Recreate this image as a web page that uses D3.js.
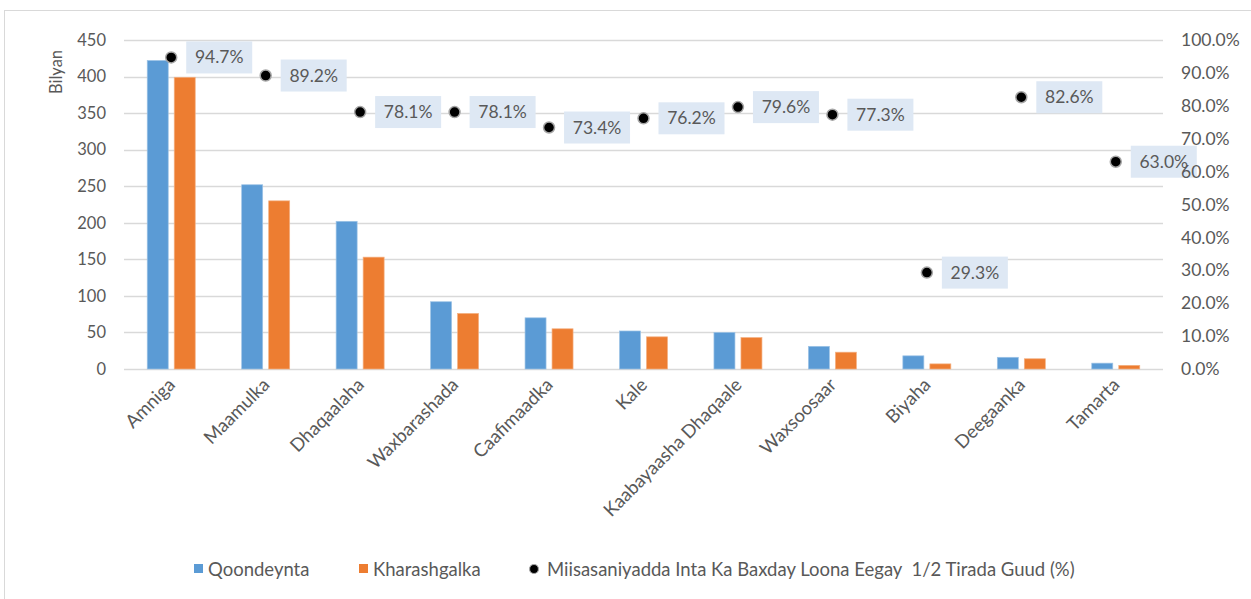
<!DOCTYPE html>
<html><head><meta charset="utf-8">
<script src="https://cdn.jsdelivr.net/npm/d3@7"></script>
<style>
html,body{margin:0;padding:0;background:#fff;}
svg text{font-family:Lato,"Liberation Sans",sans-serif;fill:#595959;}
</style></head>
<body><svg id="chart" width="1251" height="599"></svg>
<script>
const categories = ["Amniga","Maamulka","Dhaqaalaha","Waxbarashada","Caafimaadka","Kale","Kaabayaasha Dhaqaale","Waxsoosaar","Biyaha","Deegaanka","Tamarta"];
const qoondeynta = [422, 252, 202, 92, 70, 52, 50, 31, 18, 16, 8];
const kharashgalka = [399, 230, 153, 76, 55, 44, 43, 23, 7, 14, 5];
const percent = [94.7, 89.2, 78.1, 78.1, 73.4, 76.2, 79.6, 77.3, 29.3, 82.6, 63.0];
const leftTicks = [0,50,100,150,200,250,300,350,400,450];
const rightTicks = [0,0.1,0.2,0.3,0.4,0.5,0.6,0.7,0.8,0.9,1.0];
const seriesNames = ["Qoondeynta","Kharashgalka","Miisasaniyadda Inta Ka Baxday Loona Eegay  1/2 Tirada Guud (%)"];
const axisTitle = "Bilyan";

const svg = d3.select("#chart");
const L = 124, R = 1163, T = 40, B = 369;
const x = d3.scaleBand().domain(categories).range([L, R]);
const yL = d3.scaleLinear().domain([0,450]).range([B, T]);
const yR = d3.scaleLinear().domain([0,1]).range([B, T]);

// chart border
svg.append("rect").attr("x",4.5).attr("y",10.5).attr("width",1260).attr("height",600)
  .attr("fill","none").attr("stroke","#d9d9d9").attr("stroke-width",1);

// gridlines
svg.append("g").selectAll("line").data(leftTicks).join("line")
  .attr("x1",L).attr("x2",R).attr("y1",d=>Math.round(yL(d))+0.5).attr("y2",d=>Math.round(yL(d))+0.5)
  .attr("stroke","#d9d9d9").attr("stroke-width",1.5);

// left axis
const gL = svg.append("g").attr("transform",`translate(${L},0)`)
  .call(d3.axisLeft(yL).tickValues(leftTicks).tickSize(0).tickPadding(18));
gL.select(".domain").remove();
gL.selectAll("text").attr("font-size",16.5).style("font-family","Lato, sans-serif").attr("fill","#595959");

// axis title
svg.append("text").attr("transform","translate(62,72) rotate(-90)").attr("text-anchor","middle")
  .attr("font-size",16.5).text(axisTitle);

// bars
const bw = 21;
svg.append("g").selectAll("rect").data(categories).join("rect")
  .attr("x",d=>x(d)+x.bandwidth()/2-24).attr("width",bw)
  .attr("y",(d,i)=>yL(qoondeynta[i])).attr("height",(d,i)=>yL(0)-yL(qoondeynta[i]))
  .attr("fill","#5b9bd5").attr("stroke","#9dc3e6").attr("stroke-width",0.7);
svg.append("g").selectAll("rect").data(categories).join("rect")
  .attr("x",d=>x(d)+x.bandwidth()/2+3).attr("width",bw)
  .attr("y",(d,i)=>yL(kharashgalka[i])).attr("height",(d,i)=>yL(0)-yL(kharashgalka[i]))
  .attr("fill","#ed7d31").attr("stroke","#f4b183").attr("stroke-width",0.7);

// x labels
svg.append("g").selectAll("text").data(categories).join("text")
  .attr("transform",d=>`translate(${x(d)+x.bandwidth()/2+5},386) rotate(-45)`)
  .attr("text-anchor","end").attr("font-size",18.5).text(d=>d);

// data label boxes
const lab = svg.append("g");
categories.forEach((c,i)=>{
  const cx = x(c)+x.bandwidth()/2, cy = yR(percent[i]/100);
  lab.append("rect").attr("x",cx+15).attr("y",Math.max(cy-16,41)).attr("width",66)
    .attr("height",cy-16<41? 32-(41-(cy-16)) : 32).attr("fill","#dee8f4");
  lab.append("text").attr("x",cx+48).attr("y",cy+6).attr("text-anchor","middle")
    .attr("font-size",17.5).text(d3.format(".1f")(percent[i])+"%");
});

// points
svg.append("g").selectAll("circle").data(categories).join("circle")
  .attr("cx",d=>x(d)+x.bandwidth()/2).attr("cy",(d,i)=>yR(percent[i]/100)).attr("r",5.5)
  .attr("fill","#000").attr("stroke","#a6a6a6").attr("stroke-width",1.5);

// right axis (drawn on top of labels)
const gR = svg.append("g").attr("transform",`translate(${R},0)`)
  .call(d3.axisRight(yR).tickValues(rightTicks).tickSize(0).tickPadding(18).tickFormat(d3.format(".1%")));
gR.select(".domain").remove();
gR.selectAll("text").attr("font-size",17.5).attr("fill","#595959");

// legend
const lg = svg.append("g");
lg.append("rect").attr("x",194).attr("y",564).attr("width",9).attr("height",9).attr("fill","#5b9bd5");
lg.append("text").attr("x",208).attr("y",576).attr("font-size",18.5).text(seriesNames[0]);
lg.append("rect").attr("x",359).attr("y",564).attr("width",9).attr("height",9).attr("fill","#ed7d31");
lg.append("text").attr("x",373).attr("y",576).attr("font-size",18.5).text(seriesNames[1]);
lg.append("circle").attr("cx",534).attr("cy",569).attr("r",4.5).attr("fill","#000").attr("stroke","#a6a6a6").attr("stroke-width",1.2);
lg.append("text").attr("x",547).attr("y",576).attr("font-size",18.5).attr("xml:space","preserve").style("white-space","pre").text(seriesNames[2]);
</script></body></html>
